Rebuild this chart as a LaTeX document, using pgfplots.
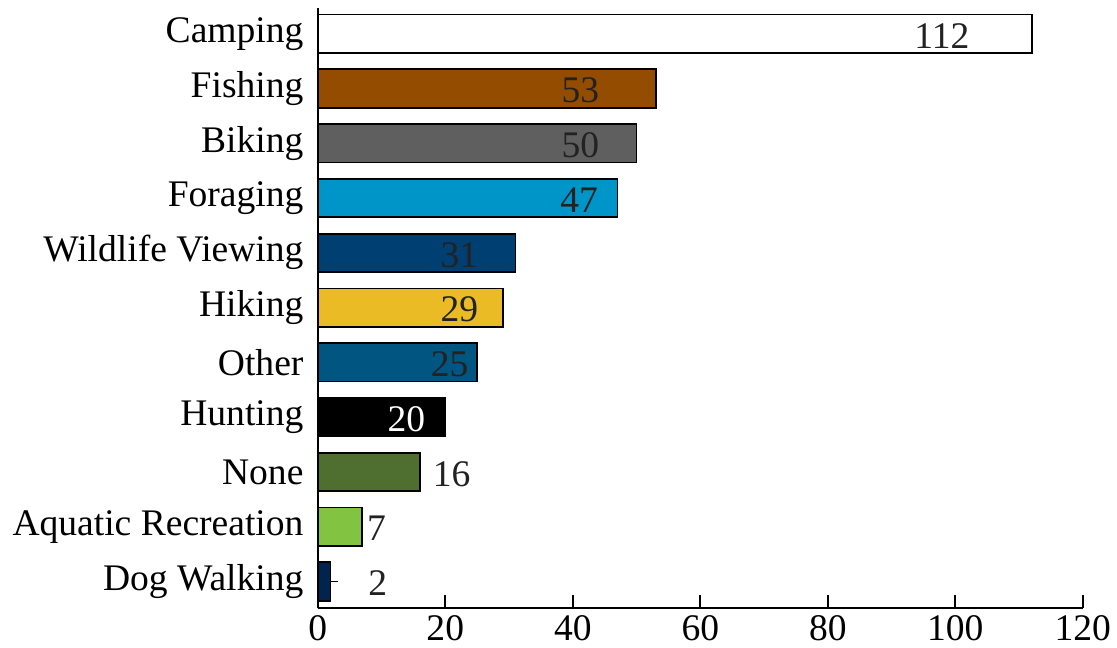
\documentclass[border=0pt]{standalone}
\usepackage{pgfplots}
\pgfplotsset{compat=1.18}
\usepackage{fontspec}
\setmainfont{Liberation Serif}
\definecolor{cFish}{HTML}{934C00}
\definecolor{cBike}{HTML}{5F5F5F}
\definecolor{cForage}{HTML}{0095C8}
\definecolor{cWild}{HTML}{003F72}
\definecolor{cHike}{HTML}{EABB24}
\definecolor{cOther}{HTML}{005581}
\definecolor{cNone}{HTML}{4F6F31}
\definecolor{cAqua}{HTML}{82C341}
\definecolor{cDog}{HTML}{00244F}
\definecolor{cLab}{HTML}{222222}
\begin{document}
\fontsize{18.8}{22}\selectfont
\begin{tikzpicture}
\begin{axis}[
  scale only axis,
  width=383pt, height=300.5pt,
  xmin=0, xmax=120, ymin=-0.49, ymax=10.47,
  xtick={0,20,...,120},
  ytick={0,...,10},
  yticklabels={Dog Walking,Aquatic Recreation,None,Hunting,Other,Hiking,Wildlife Viewing,Foraging,Biking,Fishing,Camping},
  axis x line*=bottom, axis y line*=left,
  x axis line style={-, line width=1pt},
  y axis line style={-, line width=1pt},
  xtick style={line width=1pt, black},
  major tick length=6.5pt,
  xtick pos=bottom, ytick style={draw=none},
  tick align=inside,
  xticklabel style={inner sep=3pt, yshift=-0.5pt},
  yticklabel style={xshift=5.8pt},
  ticklabel style={font=\fontsize{18.8}{22}\selectfont, text=black},
  /pgf/number format/assume math mode=true,
  xbar, bar width=0.7, bar shift=0pt,
  every axis plot/.append style={draw=black, line width=0.9pt},
  clip=false,
]
\addplot[fill=white] coordinates {(112,10)};
\addplot[fill=cFish] coordinates {(53,9)};
\addplot[fill=cBike] coordinates {(50,8)};
\addplot[fill=cForage] coordinates {(47,7)};
\addplot[fill=cWild] coordinates {(31,6)};
\addplot[fill=cHike] coordinates {(29,5)};
\addplot[fill=cOther] coordinates {(25,4)};
\addplot[fill=black] coordinates {(20,3)};
\addplot[fill=cNone] coordinates {(16,2)};
\addplot[fill=cAqua] coordinates {(7,1)};
\addplot[fill=cDog] coordinates {(2,0)};
\addplot[xbar=false, draw=none, mark=none, forget plot,
  error bars/.cd, x dir=plus, x fixed=1.1, error mark=none,
  error bar style={line width=0.75pt, black}] coordinates {(2,0)};
\addplot[xbar=false, draw=none, mark=none, only marks,
  point meta=explicit symbolic,
  nodes near coords,
  every node near coord/.append style={anchor=center, yshift=-1pt, text=cLab, font=\fontsize{18.8}{22}\selectfont, inner sep=0pt}]
  table[meta=lab] {
x y lab
97.9 10 112
41.2 9 53
41.2 8 50
41.0 7 47
22.2 6 31
22.2 5 29
20.7 4 25
21.0 2 16
9.2 1 7
9.4 0 2
};
\addplot[xbar=false, draw=none, mark=none, only marks,
  point meta=explicit symbolic,
  nodes near coords,
  every node near coord/.append style={anchor=center, yshift=-1pt, text=white, font=\fontsize{18.8}{22}\selectfont, inner sep=0pt}]
  table[meta=lab] {
x y lab
13.9 3 20
};
\end{axis}
\path ([yshift=4pt]current axis.north west);
\end{tikzpicture}
\end{document}
